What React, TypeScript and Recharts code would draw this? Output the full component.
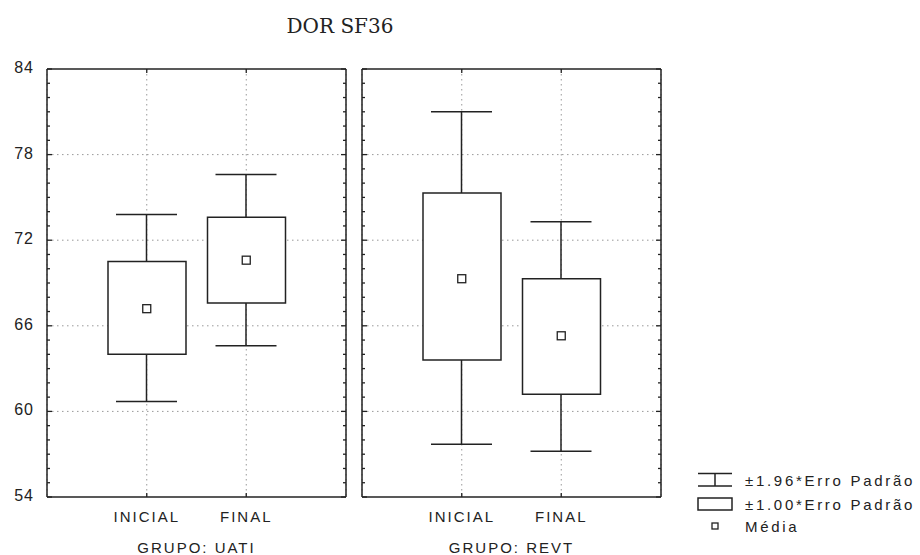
import React from 'react'
import {
  ComposedChart,
  Bar,
  Scatter,
  XAxis,
  YAxis,
  CartesianGrid,
} from 'recharts'

const CATEGORIAS = ['INICIAL', 'FINAL']

// grupo UATI
const UATI_MEDIA = [67.2, 70.6]
const UATI_CAIXA_MIN = [64.0, 67.6]
const UATI_CAIXA_MAX = [70.5, 73.6]
const UATI_BIGODE_MIN = [60.7, 64.6]
const UATI_BIGODE_MAX = [73.8, 76.6]

// grupo REVT
const REVT_MEDIA = [69.3, 65.3]
const REVT_CAIXA_MIN = [63.6, 61.2]
const REVT_CAIXA_MAX = [75.3, 69.3]
const REVT_BIGODE_MIN = [57.7, 57.2]
const REVT_BIGODE_MAX = [81.0, 73.3]

const Y_TICKS = [54, 55, 56, 57, 58, 59, 60, 61, 62, 63, 64, 65, 66, 67, 68, 69, 70, 71, 72, 73, 74, 75, 76, 77, 78, 79, 80, 81, 82, 83, 84]
const Y_LABELS = [54, 60, 66, 72, 78, 84]
const GRID_Y = [60, 66, 72, 78]

const INK = '#222'
const FONT = '"Liberation Sans", Arial, sans-serif'

function buildData(media: number[], cMin: number[], cMax: number[], bMin: number[], bMax: number[]) {
  return CATEGORIAS.map((cat, i) => ({
    cat,
    media: media[i],
    caixa: [cMin[i], cMax[i]],
    bigode: [bMin[i], bMax[i]],
  }))
}

const TICK_MARGIN = 8

function YTickLeft({ x, y, payload, showLabel }: any) {
  const ax = x + TICK_MARGIN
  const major = Y_LABELS.includes(payload.value)
  return (
    <g>
      <line x1={ax} x2={ax + (major ? 5 : 3)} y1={y} y2={y} stroke={INK} strokeWidth={1.3} />
      {showLabel && major && (
        <text x={ax - 13} y={y} dy={4} textAnchor="end" fontSize={16} letterSpacing={1} fontFamily={FONT} fill={INK}>
          {payload.value}
        </text>
      )}
    </g>
  )
}

function YTickRight({ x, y, payload }: any) {
  const ax = x - TICK_MARGIN
  const major = Y_LABELS.includes(payload.value)
  return <line x1={ax} x2={ax - (major ? 5 : 3)} y1={y} y2={y} stroke={INK} strokeWidth={1.3} />
}

function XTickBottom({ x, y, payload }: any) {
  const ay = y - TICK_MARGIN
  return (
    <g>
      <line x1={x} x2={x} y1={ay} y2={ay - 4} stroke={INK} strokeWidth={1.3} />
      <text x={x} y={ay + 25} textAnchor="middle" fontSize={15} letterSpacing={2} fontFamily={FONT} fill={INK}>
        {payload.value}
      </text>
    </g>
  )
}

function XTickTop({ x, y }: any) {
  const ay = y + TICK_MARGIN
  return <line x1={x} x2={x} y1={ay} y2={ay + 4} stroke={INK} strokeWidth={1.3} />
}

// whisker: vertical line with caps at both ends of the range bar
function Whisker({ x, y, width, height }: any) {
  if (x == null || y == null) return <g />
  const cx = x + width / 2
  return (
    <g stroke={INK} strokeWidth={1.5}>
      <line x1={x} x2={x + width} y1={y} y2={y} />
      <line x1={cx} x2={cx} y1={y} y2={y + height} />
      <line x1={x} x2={x + width} y1={y + height} y2={y + height} />
    </g>
  )
}

function MeanSquare({ cx, cy }: any) {
  if (cx == null || cy == null) return <g />
  return <rect x={cx - 4} y={cy - 4} width={8} height={8} fill="#fff" stroke={INK} strokeWidth={1.3} />
}

interface PanelProps {
  data: ReturnType<typeof buildData>
  grupo: string
  left: number
  axisWidth: number
  showLabels: boolean
}

function Panel({ data, grupo, left, axisWidth, showLabels }: PanelProps) {
  return (
    <ComposedChart
      width={axisWidth + 299 + 6}
      height={555}
      data={data}
      margin={{ top: 68, right: 0, bottom: 0, left: 0 }}
      style={{ position: 'absolute', left, top: 0 }}
    >
      <XAxis
        xAxisId="top"
        orientation="top"
        dataKey="cat"
        height={1}
        padding={{ left: 50, right: 50 }}
        tickSize={0}
        tickMargin={TICK_MARGIN}
        tick={<XTickTop />}
        axisLine={{ stroke: INK, strokeWidth: 1.5 }}
      />
      <XAxis
        xAxisId="main"
        dataKey="cat"
        height={58}
        padding={{ left: 50, right: 50 }}
        tickSize={0}
        tickMargin={TICK_MARGIN}
        tick={<XTickBottom />}
        axisLine={{ stroke: INK, strokeWidth: 1.5 }}
        label={{ value: grupo, position: 'insideBottom', offset: 2, fontSize: 15, fill: INK, fontFamily: FONT, letterSpacing: 2 }}
      />
      <XAxis xAxisId="w" dataKey="cat" hide padding={{ left: 50, right: 50 }} />
      <YAxis
        yAxisId="left"
        type="number"
        domain={[54, 84]}
        ticks={Y_TICKS}
        interval={0}
        width={axisWidth}
        tickSize={0}
        tickMargin={TICK_MARGIN}
        tick={<YTickLeft showLabel={showLabels} />}
        axisLine={{ stroke: INK, strokeWidth: 1.5 }}
        allowDataOverflow
      />
      <YAxis
        yAxisId="right"
        orientation="right"
        type="number"
        domain={[54, 84]}
        ticks={Y_TICKS}
        interval={0}
        width={6}
        tickSize={0}
        tickMargin={TICK_MARGIN}
        tick={<YTickRight />}
        axisLine={{ stroke: INK, strokeWidth: 1.5 }}
        allowDataOverflow
      />
      <CartesianGrid
        xAxisId="main"
        yAxisId="left"
        horizontalValues={GRID_Y}
        stroke="#999"
        strokeDasharray="1.5 3.5"
      />
      <Bar
        xAxisId="w"
        yAxisId="left"
        dataKey="bigode"
        barSize={61}
        shape={<Whisker />}
        isAnimationActive={false}
      />
      <Bar
        xAxisId="main"
        yAxisId="left"
        dataKey="caixa"
        barSize={78}
        fill="#fff"
        stroke={INK}
        strokeWidth={1.5}
        isAnimationActive={false}
      />
      <Scatter xAxisId="main" yAxisId="left" dataKey="media" shape={<MeanSquare />} isAnimationActive={false} />
    </ComposedChart>
  )
}

function LegendRow({ top, icon, label }: { top: number; icon: React.ReactNode; label: string }) {
  return (
    <div style={{ position: 'absolute', left: 696, top, height: 16, display: 'flex', alignItems: 'center' }}>
      <svg width={38} height={16}>{icon}</svg>
      <span style={{ marginLeft: 11, fontSize: 15, fontFamily: FONT, letterSpacing: 2.7, color: INK, whiteSpace: 'nowrap' }}>
        {label}
      </span>
    </div>
  )
}

export default function App() {
  const uati = buildData(UATI_MEDIA, UATI_CAIXA_MIN, UATI_CAIXA_MAX, UATI_BIGODE_MIN, UATI_BIGODE_MAX)
  const revt = buildData(REVT_MEDIA, REVT_CAIXA_MIN, REVT_CAIXA_MAX, REVT_BIGODE_MIN, REVT_BIGODE_MAX)

  return (
    <div style={{ position: 'absolute', left: 0, top: 0, width: 920, height: 555, background: '#fff', overflow: 'hidden' }}>
      <div
        style={{
          position: 'absolute',
          left: 240,
          width: 200,
          top: 16,
          lineHeight: '20px',
          textAlign: 'center',
          fontFamily: '"DejaVu Serif", "Liberation Serif", serif',
          fontSize: 20,
          color: INK,
        }}
      >
        DOR SF36
      </div>
      <Panel data={uati} grupo="GRUPO: UATI" left={0} axisWidth={47} showLabels />
      <Panel data={revt} grupo="GRUPO: REVT" left={356} axisWidth={6} showLabels={false} />
      <LegendRow
        top={472}
        label="±1.96*Erro Padrão"
        icon={
          <g stroke={INK} strokeWidth={1.5}>
            <line x1={2} x2={36} y1={1.5} y2={1.5} />
            <line x1={19} x2={19} y1={1.5} y2={14} />
            <line x1={2} x2={36} y1={14} y2={14} />
          </g>
        }
      />
      <LegendRow
        top={496}
        label="±1.00*Erro Padrão"
        icon={<rect x={2} y={2} width={34} height={12} fill="#fff" stroke={INK} strokeWidth={1.5} />}
      />
      <LegendRow
        top={518}
        label="Média"
        icon={<rect x={16} y={5} width={6} height={6} fill="#fff" stroke={INK} strokeWidth={1.3} />}
      />
    </div>
  )
}
